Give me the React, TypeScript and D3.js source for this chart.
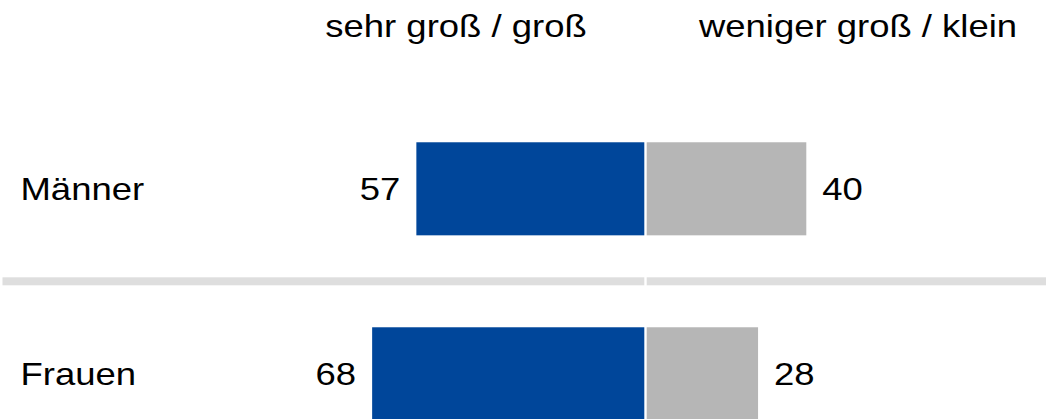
import { useEffect, useRef } from 'react';
import * as d3 from 'd3';

const categories = ['Männer', 'Frauen'];
const bigValues = [57, 68];
const smallValues = [40, 28];
const headers = ['sehr groß / groß', 'weniger groß / klein'];

const W = 1046;
const H = 419;
const BLUE = '#00469a';
const GREY = '#b6b6b6';
const FONT = '"Liberation Sans", Arial, sans-serif';
const SX = 1.14; // the reference text is slightly stretched horizontally

const App = () => {
  const svgRef = useRef<SVGSVGElement>(null);

  useEffect(() => {
    const svg = d3.select(svgRef.current);
    svg.selectAll('*').remove();

    const center = 645.5;
    const x = d3.scaleLinear().domain([-100, 100]).range([center - 402, center + 402]);
    const y = d3
      .scaleBand<string>()
      .domain(categories)
      .range([96.3, 466.3])
      .paddingInner(0.497)
      .paddingOuter(0.2485);

    const gap = 1.2;
    const rows = categories.map((c, i) => ({ cat: c, big: bigValues[i], small: smallValues[i] }));

    // separator between rows
    const step = y.step();
    const bw = y.bandwidth();
    const sepY = (y(categories[0]) || 0) + bw + (step - bw) / 2;
    svg.append('rect')
      .attr('x', 2.5).attr('y', sepY - 4)
      .attr('width', x(0) - gap - 2.5).attr('height', 8)
      .attr('fill', '#dedede');
    svg.append('rect')
      .attr('x', x(0) + gap).attr('y', sepY - 4)
      .attr('width', W - x(0) - gap).attr('height', 8)
      .attr('fill', '#dedede');

    const g = svg.selectAll('g.row')
      .data(rows)
      .join('g')
      .attr('class', 'row');

    g.append('rect')
      .attr('x', d => x(-d.big))
      .attr('y', d => y(d.cat) || 0)
      .attr('width', d => x(0) - gap - x(-d.big))
      .attr('height', bw)
      .attr('fill', BLUE);

    g.append('rect')
      .attr('x', x(0) + gap)
      .attr('y', d => y(d.cat) || 0)
      .attr('width', d => x(d.small) - x(0) - gap)
      .attr('height', bw)
      .attr('fill', GREY);

    const textAt = (sel: any, tx: (d: any) => number, ty: (d: any) => number, anchor: string, txt: (d: any) => string) =>
      sel.append('text')
        .attr('transform', (d: any) => `translate(${tx(d)},${ty(d)}) scale(${SX},1)`)
        .attr('text-anchor', anchor)
        .attr('font-family', FONT)
        .attr('font-size', 32)
        .attr('fill', '#000')
        .text(txt);

    const mid = (d: any) => (y(d.cat) || 0) + bw / 2 + 11;
    textAt(g, () => 20.5, mid, 'start', d => d.cat);
    textAt(g, d => x(-d.big) - 16, mid, 'end', d => String(d.big));
    textAt(g, d => x(d.small) + 16, mid, 'start', d => String(d.small));

    const hdr = svg.selectAll('g.hdr')
      .data(headers)
      .join('g')
      .attr('class', 'hdr');
    textAt(hdr, (_d: any) => 0, () => 37, 'middle', d => d)
      .attr('transform', (_d: any, i: number) => `translate(${i === 0 ? center - 189.5 : center + 212.5},37) scale(${SX},1)`);
  }, []);

  return (
    <svg
      ref={svgRef}
      width={W}
      height={H}
      style={{ position: 'absolute', left: 0, top: 0, display: 'block', background: '#fff' }}
    />
  );
};

export default App;
